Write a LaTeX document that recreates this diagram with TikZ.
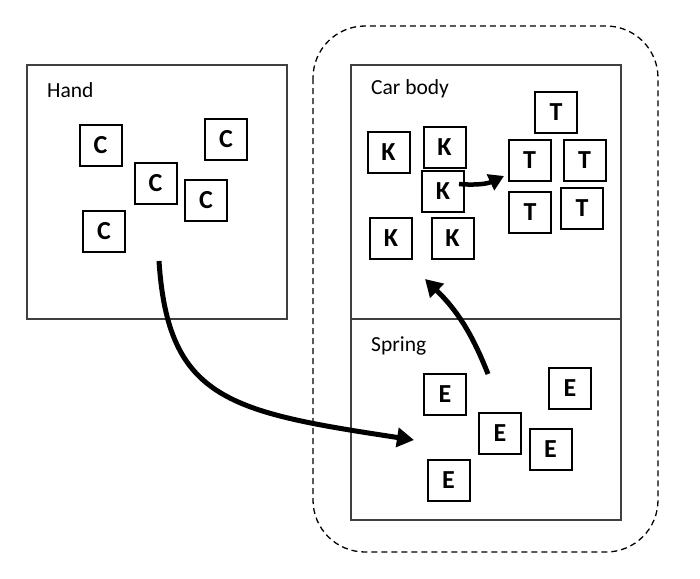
\documentclass[tikz,border=0pt]{standalone}
\usepackage{fontspec}
\setmainfont{Carlito}
\usetikzlibrary{arrows.meta}
\begin{document}
\begin{tikzpicture}[x=1pt,y=-1pt,
  panel/.style={draw=black!75,line width=1.3pt},
  lbl/.style={anchor=west,inner sep=0pt,font=\fontsize{21.5}{25}\selectfont},
  lbox/.style={draw=black,line width=2pt,minimum width=42pt,minimum height=41pt,inner sep=0pt,font=\fontsize{26}{30}\selectfont\bfseries},
  bigarrow/.style={line width=5pt,-{Triangle[length=17pt,width=19pt]}},
  smallarrow/.style={line width=4.5pt,-{Triangle[length=15pt,width=17pt]}}]
\useasboundingbox (0,0) rectangle (700,578);
% dashed group
\draw[line width=1.3pt,dash pattern=on 6pt off 4pt,rounded corners=52pt] (313,26) rectangle (658,552);
% panels
\draw[panel] (27,65) rectangle (287,319);
\draw[panel] (351,65) rectangle (621,520);
\draw[panel] (351,319) -- (621,319);
\node[lbl] (hand) at (47,90) {Hand};
\node[lbl] (car) at (371,89) {Car body};
\node[lbl] (spring) at (371,346) {Spring};
% C boxes
\node[lbox] (c1) at (100.5,145) {C};
\node[lbox] (c2) at (226,139) {C};
\node[lbox] (c3) at (155.5,183.5) {C};
\node[lbox] (c4) at (206,200.5) {C};
\node[lbox] (c5) at (104,231) {C};
% K boxes
\node[lbox] (k1) at (388.5,152.5) {K};
\node[lbox] (k2) at (444.5,147) {K};
\node[lbox] (k3) at (443,191) {K};
\node[lbox] (k4) at (391,238) {K};
\node[lbox] (k5) at (452.5,238) {K};
% T boxes
\node[lbox] (t1) at (556,112.5) {T};
\node[lbox] (t2) at (529.5,160.5) {T};
\node[lbox] (t3) at (584.5,160.5) {T};
\node[lbox] (t4) at (530,212) {T};
\node[lbox] (t5) at (582,208.5) {T};
% E boxes
\node[lbox] (e1) at (445,394.5) {E};
\node[lbox] (e2) at (570,388.5) {E};
\node[lbox] (e3) at (500,433) {E};
\node[lbox] (e4) at (550.5,449.5) {E};
\node[lbox] (e5) at (448.5,480.5) {E};
% arrow end points
\coordinate (a1s) at (159,261);
\coordinate (a1e) at (414,440);
\coordinate (a2s) at (488,374);
\coordinate (a2e) at (425,279);
\coordinate (a3s) at (459,184);
\coordinate (a3e) at (504,176);
\draw[bigarrow] (a1s) .. controls (168,400) and (230,412) .. (a1e);
\draw[bigarrow] (a2s) to[bend right=12] (a2e);
\draw[smallarrow] (a3s) to[bend right=15] (a3e);
\end{tikzpicture}
\end{document}
